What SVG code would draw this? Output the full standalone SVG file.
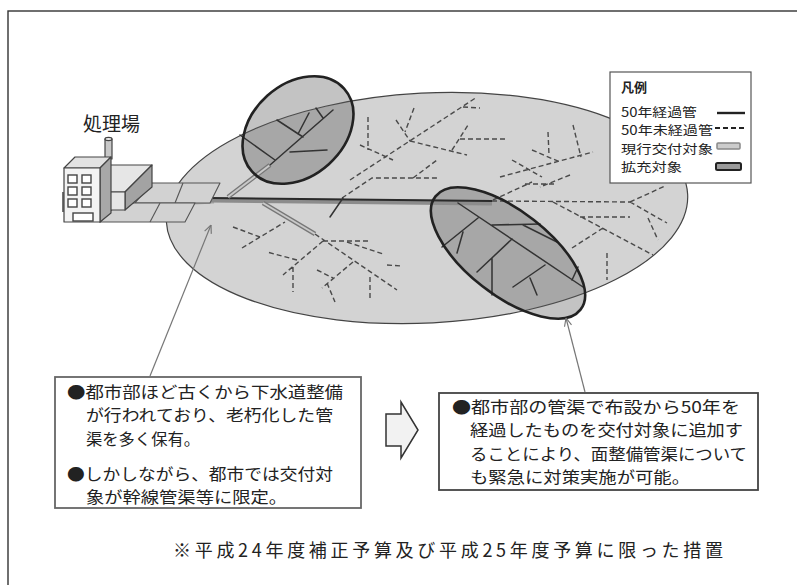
<svg xmlns="http://www.w3.org/2000/svg" width="797" height="585" viewBox="0 0 797 585">
  <style>
    .txt { font-family: "Noto Sans CJK JP", "Noto Sans CJK SC", sans-serif; fill: #222; }
    .box { font-size: 16px; }
    .leg { font-size: 12.5px; }
    .dash { fill: none; stroke: #4a4a4a; stroke-width: 1.4; stroke-dasharray: 5 3; }
    .old { fill: none; stroke: #333; stroke-width: 1.5; stroke-linecap: round; }
    .curOut { fill: none; stroke: #777; stroke-width: 4.5; stroke-linecap: butt; }
    .curIn { fill: none; stroke: #c9c9c9; stroke-width: 2; }
    .face { stroke: #444; stroke-width: 1.2; stroke-linejoin: round; }
    .win { fill: #fff; stroke: #444; stroke-width: 1.4; }
    .tile { fill: #d2d2d2; stroke: #555; stroke-width: 1.1; stroke-linejoin: round; }
    .focus { fill: #5a5a5a; fill-opacity: 0.36; stroke: none; }
    .focusEdge { fill: none; stroke: #222; stroke-width: 2.6; }
    .lead { fill: none; stroke: #777; stroke-width: 1.2; }
  </style>
  <defs>
    <marker id="openHead" viewBox="0 0 10 10" refX="10" refY="5" markerWidth="9" markerHeight="9" markerUnits="userSpaceOnUse" orient="auto">
      <path d="M1,1 L10,5 L1,9" fill="none" stroke="#777" stroke-width="1.3"/>
    </marker>
  </defs>

  <rect width="797" height="585" fill="#fff"/>
  <!-- page frame -->
  <rect x="8" y="11" width="800" height="600" fill="none" stroke="#333" stroke-width="1.4"/>

  <!-- service area -->
  <g id="area">
    <ellipse cx="427" cy="208" rx="261" ry="115" transform="rotate(-3 427 208)" fill="#d3d3d3" stroke="#444" stroke-width="1.2"/>
  </g>

  <!-- expansion zones (fill) -->
  <g id="zone-left-fill">
    <ellipse class="focus" cx="298" cy="130" rx="62" ry="46" transform="rotate(-42 298 130)"/>
  </g>
  <g id="zone-right-fill">
    <ellipse class="focus" cx="508" cy="253" rx="92" ry="42" transform="rotate(38 508 253)"/>
  </g>

  <!-- sewer network -->
  <g id="pipes">
    <!-- pipes under 50 years -->
    <g class="dash">
      <path d="M492,201 L630,202"/>
      <path d="M315,234 L397,290 M323,241 L370,241 M323,241 L283,275 M297,260 L267,252 M293,267 L293,292"/>
      <path d="M353,262 L322,288 M317,270 L333,278 M327,283 L335,302 M370,277 L370,300 M387,265 L402,266 M347,242 L383,254"/>
      <path d="M242,248 L285,222 M233,227 L260,237"/>
      <path d="M342,198 L372,178 L437,178 M413,178 L437,160 M350,180 L477,97 M463,107 L480,108"/>
      <path d="M368,117 L368,150 M360,145 L393,160 M396,120 L410,141 M414,108 L405,132 M410,141 L467,155 M452,150 L468,125 M460,139 L508,139"/>
      <path d="M548,132 L549,155 M532,150 L560,162 M573,125 L581,157 M500,177 L593,152 M512,160 L542,177 M525,184 L557,184 M570,175 L540,187 M493,200 L532,182"/>
      <path d="M630,202 L665,186 M553,202 L653,255 M580,217 L630,217 M630,202 L667,223 M648,218 L658,240 M572,248 L603,228 M607,253 L607,280"/>
    </g>
    <!-- trunk sewer (current grant target) -->
    <path d="M195,203 L214,202" stroke="#aaa" stroke-width="3" fill="none"/>
    <path d="M209,200 L492,203" stroke="#8c8c8c" stroke-width="5" fill="none"/>
    <path d="M209,198 L492,201" stroke="#2a2a2a" stroke-width="2" fill="none"/>
    <!-- branch sewers (current grant target) -->
    <path class="curOut" d="M228,197 L270,165 M263,203 L315,234"/>
    <path class="curIn" d="M228,197 L270,165 M263,203 L315,234"/>
    <!-- pipes over 50 years -->
    <g class="old">
      <path d="M270,165 L333,110 M275,160 L240,135 M290,152 L327,150 M303,137 L277,120 M298,134 L309,113 M316,108 L323,118"/>
      <path d="M458,203 L583,287 M478,218 L442,247 M463,232 L457,253 M492,225 L540,224 M523,225 L557,242"/>
      <path d="M512,239 L477,272 M492,258 L492,295 M545,265 L513,287 M530,278 L537,295 M572,280 L578,267"/>
      <path d="M343,198 L330,217"/>
    </g>
  </g>

  <!-- expansion zones (outline) -->
  <g id="zone-left">
    <ellipse class="focusEdge" cx="298" cy="130" rx="62" ry="46" transform="rotate(-42 298 130)"/>
  </g>
  <g id="zone-right">
    <ellipse class="focusEdge" cx="508" cy="253" rx="92" ry="42" transform="rotate(38 508 253)"/>
  </g>

  <!-- treatment plant -->
  <g id="plant">
    <polygon class="tile" points="135,203 152,183 220,183 210,203"/>
    <line x1="183" y1="183" x2="175" y2="203" stroke="#555" stroke-width="1.1"/>
    <polygon class="tile" points="100,222 185,222 195,203 118,203"/>
    <line x1="160" y1="203" x2="150" y2="222" stroke="#555" stroke-width="1.1"/>
    <!-- low block -->
    <polygon class="face" fill="#e6e6e6" points="110,165 152,165 125,192 110,192"/>
    <polygon class="face" fill="#a3a3a3" points="125,192 152,165 152,187 125,210"/>
    <polygon class="face" fill="#e6e6e6" points="110,192 125,192 125,210 110,210"/>
    <!-- chimney -->
    <rect class="face" x="105" y="139" width="7" height="20" fill="#c8c8c8"/>
    <ellipse class="face" cx="108.5" cy="139" rx="3.5" ry="1.6" fill="#eee"/>
    <!-- tall block -->
    <polygon class="face" fill="#e2e2e2" points="64,168 75,157 111,157 100,168"/>
    <polygon class="face" fill="#a8a8a8" points="100,168 111,157 111,213 100,222"/>
    <rect class="face" x="64" y="168" width="36" height="54" fill="#f3f3f3"/>
    <rect class="win" x="68" y="175" width="9" height="8"/>
    <rect class="win" x="82" y="175" width="9" height="8"/>
    <rect class="win" x="68" y="187" width="9" height="8"/>
    <rect class="win" x="82" y="187" width="9" height="8"/>
    <rect class="win" x="68" y="199" width="9" height="8"/>
    <rect class="win" x="82" y="199" width="9" height="8"/>
    <rect class="win" x="73" y="213" width="20" height="8"/>
    <line x1="63" y1="192" x2="63" y2="212" stroke="#444" stroke-width="1.5"/>
    <text class="txt" x="83" y="131" font-size="19">処理場</text>
  </g>

  <!-- legend -->
  <g id="legend">
    <rect x="610" y="72" width="141" height="111" fill="#fff" stroke="#555" stroke-width="1.2"/>
    <text class="txt" x="621" y="92" font-size="13" font-weight="bold">凡例</text>
    <text class="txt leg" x="621" y="117" textLength="76" lengthAdjust="spacingAndGlyphs">50年経過管</text>
    <text class="txt leg" x="621" y="135" textLength="92" lengthAdjust="spacingAndGlyphs">50年未経過管</text>
    <text class="txt leg" x="621" y="154" textLength="92" lengthAdjust="spacingAndGlyphs">現行交付対象</text>
    <text class="txt leg" x="621" y="172" textLength="61" lengthAdjust="spacingAndGlyphs">拡充対象</text>
    <line x1="717" y1="113" x2="745" y2="113" stroke="#222" stroke-width="2.4"/>
    <line x1="715" y1="128" x2="746" y2="128" stroke="#222" stroke-width="2" stroke-dasharray="5 3"/>
    <rect x="717" y="143" width="23" height="6" rx="1" fill="#ccc" stroke="#888" stroke-width="1.5"/>
    <rect x="716" y="163" width="25" height="7" rx="1.5" fill="#9a9a9a" stroke="#222" stroke-width="2"/>
  </g>

  <!-- current situation -->
  <g id="note-current">
    <rect x="55" y="377" width="306" height="131" fill="#fff" stroke="#666" stroke-width="1.8"/>
    <text class="txt box" x="67" y="398" textLength="276" lengthAdjust="spacingAndGlyphs">●都市部ほど古くから下水道整備</text>
    <text class="txt box" x="86" y="421" textLength="247" lengthAdjust="spacingAndGlyphs">が行われており、老朽化した管</text>
    <text class="txt box" x="86" y="445" textLength="114" lengthAdjust="spacingAndGlyphs">渠を多く保有。</text>
    <text class="txt box" x="67" y="480" textLength="266" lengthAdjust="spacingAndGlyphs">●しかしながら、都市では交付対</text>
    <text class="txt box" x="86" y="503" textLength="201" lengthAdjust="spacingAndGlyphs">象が幹線管渠等に限定。</text>
  </g>

  <!-- transition arrow -->
  <g id="shift-arrow">
    <path d="M386,414 L401,414 L401,402 L418,430 L401,458 L401,446 L386,446 Z" fill="#f2f2f2" stroke="#333" stroke-width="1.5" stroke-linejoin="miter"/>
  </g>

  <!-- measure -->
  <g id="note-measure">
    <rect x="439" y="393" width="319" height="97" fill="#fff" stroke="#444" stroke-width="1.8"/>
    <text class="txt box" x="452" y="413" textLength="288" lengthAdjust="spacingAndGlyphs">●都市部の管渠で布設から50年を</text>
    <text class="txt box" x="470" y="436" textLength="273" lengthAdjust="spacingAndGlyphs">経過したものを交付対象に追加す</text>
    <text class="txt box" x="470" y="460" textLength="277" lengthAdjust="spacingAndGlyphs">ることにより、面整備管渠について</text>
    <text class="txt box" x="470" y="483" textLength="220" lengthAdjust="spacingAndGlyphs">も緊急に対策実施が可能。</text>
  </g>

  <!-- callout leaders -->
  <g id="leaders">
    <line class="lead" x1="150" y1="376" x2="211" y2="225" marker-end="url(#openHead)"/>
    <line class="lead" x1="585" y1="392" x2="566" y2="318" marker-end="url(#openHead)"/>
  </g>

  <g id="footnote">
    <text class="txt" x="173" y="557" font-size="18" textLength="550" lengthAdjust="spacing">※平成24年度補正予算及び平成25年度予算に限った措置</text>
  </g>
</svg>
